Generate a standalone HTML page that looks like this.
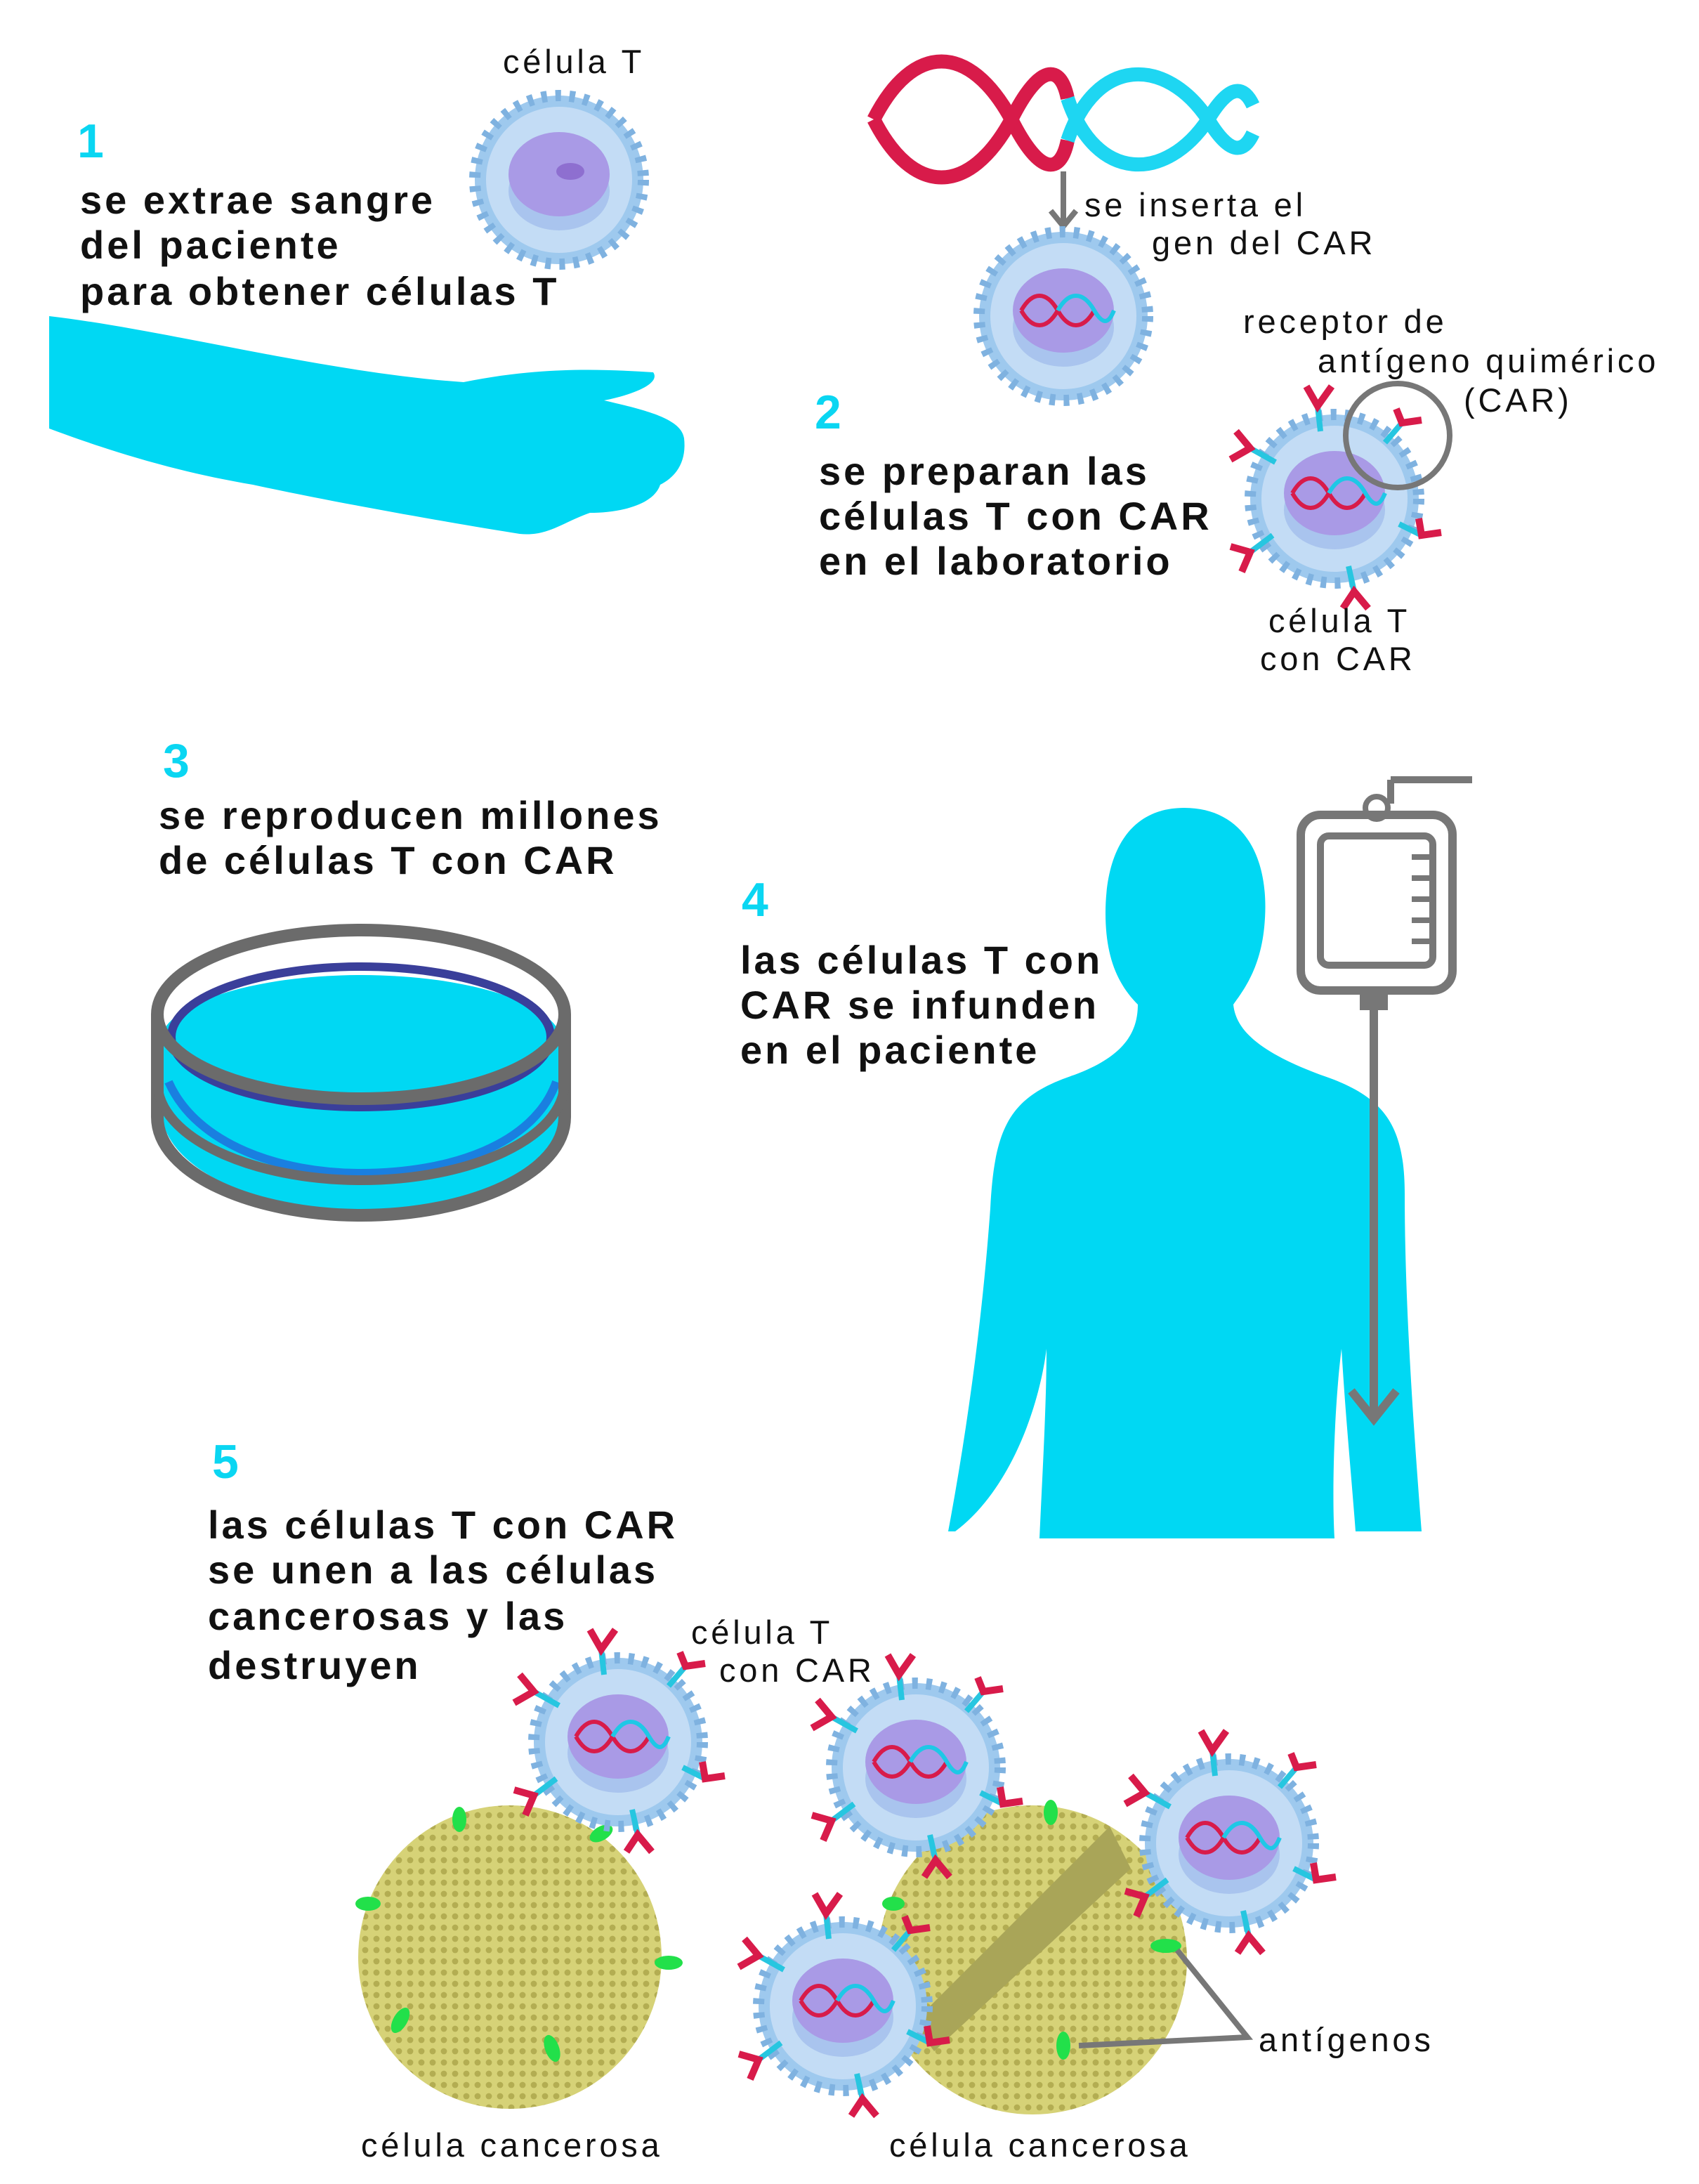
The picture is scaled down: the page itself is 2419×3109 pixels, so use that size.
<!DOCTYPE html>
<html><head><meta charset="utf-8">
<style>
html,body{margin:0;padding:0;background:#fff;}
svg{display:block;}
text{font-family:"Liberation Sans",sans-serif;fill:#111;}
.b{font-weight:bold;font-size:28px;letter-spacing:2px;}
.n{font-size:23.5px;letter-spacing:2.4px;}
.num{font-weight:bold;font-size:34px;fill:#0ad6f2;}
</style></head>
<body>
<svg width="2419" height="3109" viewBox="0 0 1209.5 1554.5" xmlns="http://www.w3.org/2000/svg">
<defs>
  <pattern id="dots" width="8" height="8" patternUnits="userSpaceOnUse">
    <rect width="8" height="8" fill="#d6d277"/>
    <circle cx="4" cy="4" r="2.2" fill="#b3ad52"/>
  </pattern>
  <g id="dna-small">
    <path d="M-28,0 C-20,-14 -10,-14 -2,0 C6,14 16,14 24,0" stroke="#d81b4a" stroke-width="3" fill="none"/>
    <path d="M-28,0 C-20,14 -10,14 -2,0" stroke="#d81b4a" stroke-width="3" fill="none"/>
    <path d="M-2,0 C6,-14 16,-14 24,0 C30,10 34,10 38,0" stroke="#1ec8e6" stroke-width="3" fill="none"/>
  </g>
  <g id="tcell">
    <circle r="60" fill="#9ec9ee" stroke="#7fb2e0" stroke-width="8" stroke-dasharray="4 6"/>
    <circle r="52" fill="#c3dcf5"/>
    <ellipse cx="0" cy="8" rx="36" ry="28" fill="#a9c4ee"/>
    <ellipse cx="0" cy="-4" rx="36" ry="30" fill="#a99ae6"/>
  </g>
  <g id="cartcell">
    <use href="#tcell"/>
    <use href="#dna-small" transform="translate(-2,-4)"/>
    <g stroke="#27c6e0" stroke-width="4">
      <line x1="-10" y1="-48" x2="-12" y2="-66"/><line x1="36" y1="-40" x2="48" y2="-54"/>
      <line x1="-42" y1="-26" x2="-60" y2="-36"/><line x1="46" y1="18" x2="62" y2="26"/>
      <line x1="-44" y1="26" x2="-60" y2="38"/><line x1="10" y1="48" x2="14" y2="66"/>
    </g>
    <g stroke="#d81b4a" stroke-width="5" fill="none">
      <path d="M-20,-80 L-12,-66 L-2,-80"/><path d="M44,-64 L48,-54 L62,-56"/>
      <path d="M-70,-48 L-60,-36 L-74,-28"/><path d="M60,14 L62,26 L76,24"/>
      <path d="M-74,34 L-60,38 L-66,52"/><path d="M6,78 L14,66 L24,78"/>
    </g>
  </g>
</defs>

<!-- Step 1 -->
<text class="n" x="358" y="52">célula T</text>
<g transform="translate(398,128)">
  <use href="#tcell"/>
  <ellipse cx="8" cy="-6" rx="10" ry="6" fill="#8e6fd0"/>
</g>
<text class="num" x="55" y="112">1</text>
<text class="b"><tspan x="57" y="152">se extrae sangre</tspan><tspan x="57" y="184">del paciente</tspan><tspan x="57" y="217">para obtener células T</tspan></text>
<path fill="#00d8f3" d="M35,225 C120,235 230,265 330,272 C380,262 420,262 465,265 C470,272 455,280 430,285 C460,292 485,298 487,312 C489,330 480,340 470,345 C465,360 440,365 420,365 C400,372 390,382 370,380 C320,372 240,358 180,345 C120,335 70,318 35,305 Z"/>

<!-- Step 2 -->
<g stroke-width="10" fill="none">
  <path d="M622,85 C650,30 690,30 720,85 C740,125 755,125 760,100" stroke="#d81b4a"/>
  <path d="M622,85 C650,140 690,140 720,85 C740,45 755,45 760,70" stroke="#d81b4a"/>
  <path d="M760,100 C780,40 830,40 860,85 C875,110 885,110 892,95" stroke="#1ed6f2"/>
  <path d="M760,70 C780,130 830,130 860,85 C875,60 885,60 892,75" stroke="#1ed6f2"/>
</g>
<g stroke="#777" stroke-width="4" fill="none">
  <line x1="757" y1="122" x2="757" y2="160"/><path d="M748,150 L757,161 L766,150"/>
</g>
<text class="n"><tspan x="772" y="154">se inserta el</tspan><tspan x="820" y="181">gen del CAR</tspan></text>
<g transform="translate(757,225)">
  <use href="#tcell"/><use href="#dna-small" transform="translate(-2,-4)"/>
</g>
<text class="n"><tspan x="885" y="237">receptor de</tspan><tspan x="938" y="265">antígeno quimérico</tspan><tspan x="1042" y="293">(CAR)</tspan></text>
<text class="num" x="580" y="305">2</text>
<text class="b"><tspan x="583" y="345">se preparan las</tspan><tspan x="583" y="377">células T con CAR</tspan><tspan x="583" y="409">en el laboratorio</tspan></text>
<g transform="translate(950,355)"><use href="#cartcell"/></g>
<circle cx="995" cy="310" r="37" fill="none" stroke="#777" stroke-width="4"/>
<text class="n"><tspan x="903" y="450">célula T</tspan><tspan x="897" y="477">con CAR</tspan></text>

<!-- Step 3 -->
<text class="num" x="116" y="553">3</text>
<text class="b"><tspan x="113" y="590">se reproducen millones</tspan><tspan x="113" y="622">de células T con CAR</tspan></text>
<g>
  <path d="M115,740 L115,790 C115,830 180,862 257,862 C335,862 400,830 400,790 L400,740 Z" fill="#00d8f3"/>
  <ellipse cx="257" cy="742" rx="143" ry="48" fill="#00d8f3"/>
  <ellipse cx="257" cy="738" rx="135" ry="50" fill="none" stroke="#3a3f9a" stroke-width="6"/>
  <path d="M120,770 C140,815 200,835 257,835 C320,835 380,815 396,770" fill="none" stroke="#1a7fe0" stroke-width="6"/>
  <ellipse cx="257" cy="722" rx="145" ry="60" fill="none" stroke="#6b6b6b" stroke-width="9"/>
  <path d="M112,722 L112,795 C112,835 180,865 257,865 C335,865 402,835 402,795 L402,722" fill="none" stroke="#6b6b6b" stroke-width="9"/>
  <path d="M112,770 C112,810 180,840 257,840 C335,840 402,810 402,770" fill="none" stroke="#6b6b6b" stroke-width="7"/>
</g>

<!-- Step 4 -->
<text class="num" x="528" y="652">4</text>
<text class="b"><tspan x="527" y="693">las células T con</tspan><tspan x="527" y="725">CAR se infunden</tspan><tspan x="527" y="757">en el paciente</tspan></text>
<path fill="#00d8f3" d="M843,575 C885,575 905,610 900,660 C897,690 885,705 878,715 C880,735 900,750 940,765 C985,780 1000,800 1000,850 C1000,920 1005,1000 1012,1090 L965,1090 C962,1050 958,1010 955,960 C950,1000 948,1060 950,1095 L740,1095 C742,1050 745,1000 745,960 C740,1000 720,1060 680,1090 L675,1090 C690,1010 700,930 705,860 C708,800 720,780 765,765 C800,752 810,735 810,715 C795,700 787,680 787,650 C787,605 805,575 843,575 Z"/>
<g stroke="#777" fill="none">
  <line x1="990" y1="555" x2="1048" y2="555" stroke-width="5"/>
  <line x1="990" y1="555" x2="990" y2="572" stroke-width="5"/>
  <circle cx="980" cy="575" r="8" stroke-width="4"/>
  <rect x="926" y="580" width="108" height="125" rx="14" stroke-width="6"/>
  <rect x="940" y="595" width="80" height="92" rx="6" stroke-width="5"/>
  <g stroke-width="4"><line x1="1005" y1="610" x2="1020" y2="610"/><line x1="1005" y1="625" x2="1020" y2="625"/><line x1="1005" y1="640" x2="1020" y2="640"/><line x1="1005" y1="655" x2="1020" y2="655"/><line x1="1005" y1="670" x2="1020" y2="670"/></g>
  <rect x="968" y="705" width="20" height="14" fill="#777" stroke="none"/>
  <line x1="978" y1="719" x2="978" y2="1010" stroke-width="6"/>
  <path d="M962,990 L978,1010 L994,990" stroke-width="6"/>
</g>

<!-- Step 5 -->
<text class="num" x="151" y="1052">5</text>
<text class="b"><tspan x="148" y="1095">las células T con CAR</tspan><tspan x="148" y="1127">se unen a las células</tspan><tspan x="148" y="1160">cancerosas y las</tspan><tspan x="148" y="1195">destruyen</tspan></text>
<text class="n"><tspan x="492" y="1170">célula T</tspan><tspan x="512" y="1197">con CAR</tspan></text>

<g>
  <circle cx="363" cy="1393" r="108" fill="url(#dots)"/>
  <g fill="#22e04a">
    <ellipse cx="262" cy="1355" rx="9" ry="5"/><ellipse cx="327" cy="1295" rx="5" ry="9"/>
    <ellipse cx="428" cy="1305" rx="9" ry="5" transform="rotate(-30 428 1305)"/><ellipse cx="476" cy="1397" rx="10" ry="5"/>
    <ellipse cx="285" cy="1438" rx="5" ry="10" transform="rotate(30 285 1438)"/><ellipse cx="393" cy="1458" rx="5" ry="10" transform="rotate(-20 393 1458)"/>
  </g>
</g>
<g transform="translate(440,1240)"><use href="#cartcell"/></g>

<g>
  <circle cx="735" cy="1395" r="110" fill="url(#dots)"/>
  <path d="M650,1440 L790,1300 L805,1330 L665,1460 Z" fill="#a9a558"/>
  <g fill="#22e04a">
    <ellipse cx="830" cy="1385" rx="11" ry="5"/><ellipse cx="757" cy="1456" rx="5" ry="10"/><ellipse cx="748" cy="1290" rx="5" ry="9"/><ellipse cx="636" cy="1355" rx="8" ry="5"/>
  </g>
</g>
<g transform="translate(652,1258)"><use href="#cartcell"/></g>
<g transform="translate(875,1312)"><use href="#cartcell"/></g>
<g transform="translate(600,1428)"><use href="#cartcell"/></g>

<g stroke="#777" stroke-width="4" fill="none">
  <path d="M838,1388 L888,1450 L768,1456"/>
</g>
<text class="n" x="896" y="1460">antígenos</text>
<text class="n" x="257" y="1535">célula cancerosa</text>
<text class="n" x="633" y="1535">célula cancerosa</text>
</svg>
</body></html>
